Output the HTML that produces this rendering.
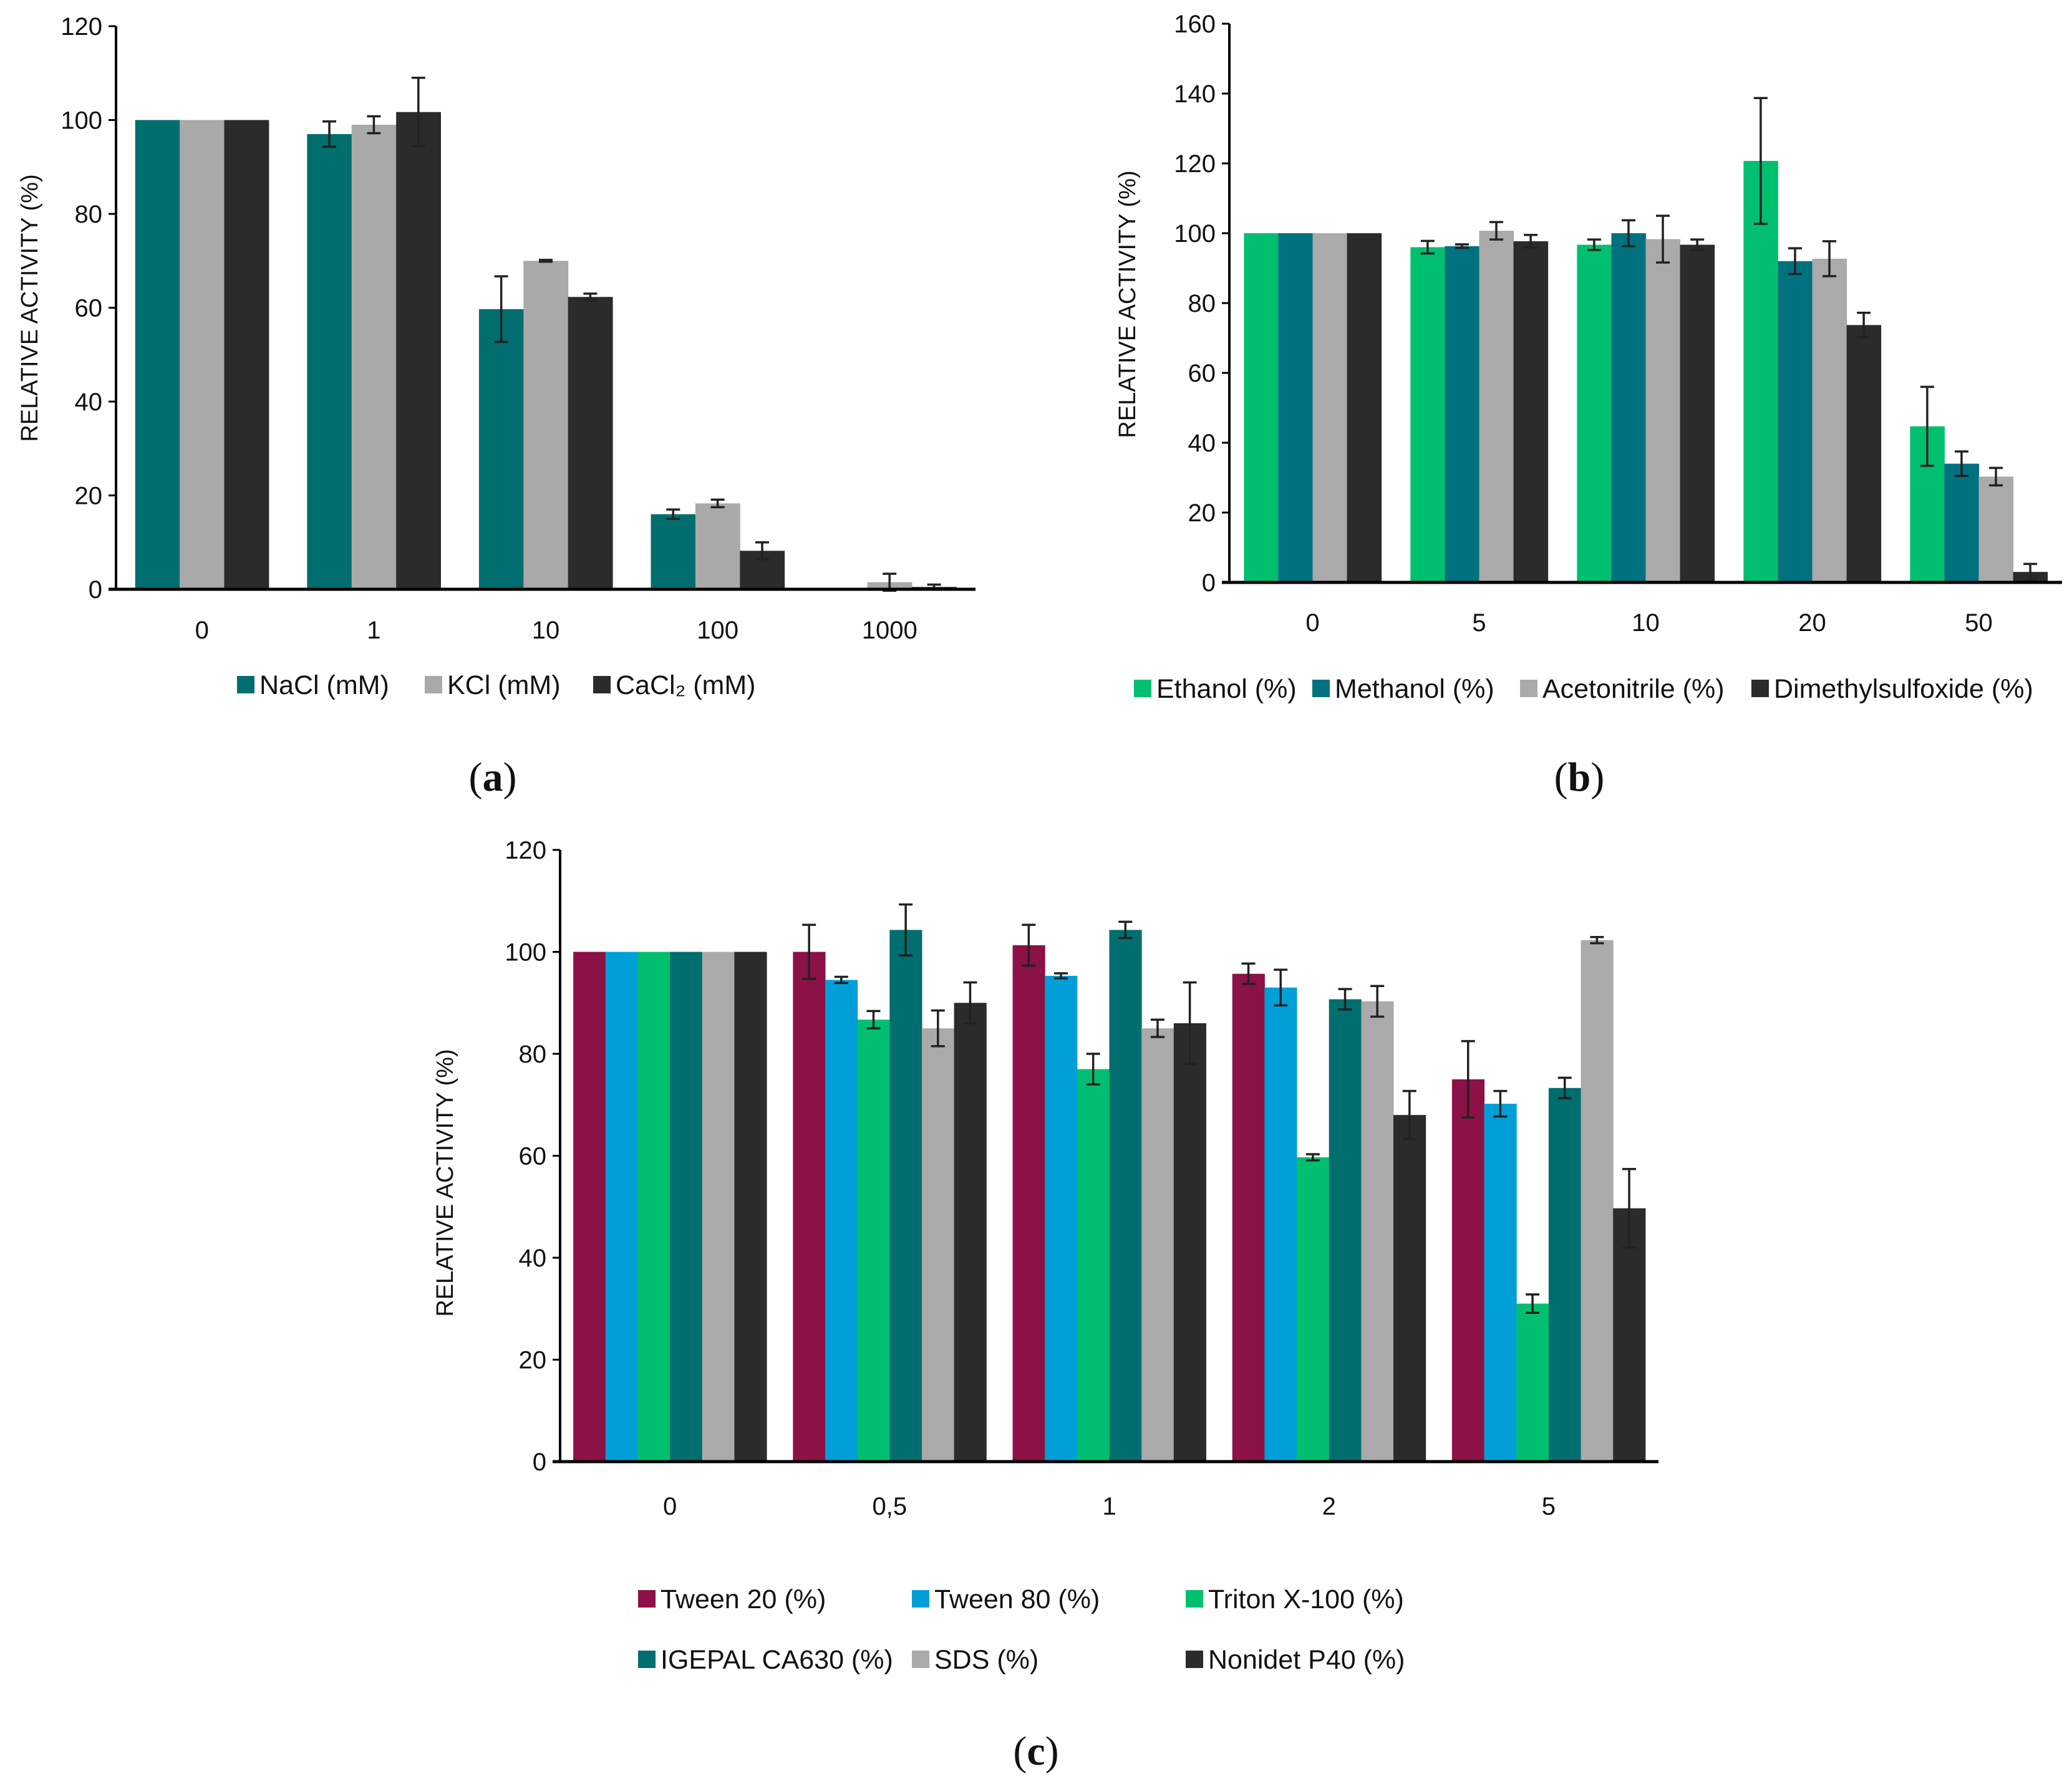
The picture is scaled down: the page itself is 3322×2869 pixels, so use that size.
<!DOCTYPE html>
<html><head><meta charset="utf-8">
<style>
html,body{margin:0;padding:0;background:#fff;}
svg{display:block;}
text{font-family:"Liberation Sans Narrow","Liberation Sans",sans-serif;fill:#111;}
.lbl{font-family:"Liberation Serif",serif;}
</style></head>
<body>
<svg id="fig" width="3322" height="2869" viewBox="0 0 3322 2869" xmlns="http://www.w3.org/2000/svg"></svg>
<script>
// ---- Panel (a) data ----
const aCategories = ["0","1","10","100","1000"];
const aSeriesNames = ["NaCl (mM)","KCl (mM)","CaCl\u2082 (mM)"];
const aNaCl = [100,97,59.7,16,0];
const aNaClErr = [0,2.7,7,1,0];
const aKCl = [100,99,70,18.3,1.5];
const aKClErr = [0,1.8,0.2,0.8,1.8];
const aCaCl2 = [100,101.7,62.3,8.2,0.5];
const aCaCl2Err = [0,7.3,0.7,1.8,0.5];
const aTicks = [0,20,40,60,80,100,120];

// ---- Panel (b) data ----
const bCategories = ["0","5","10","20","50"];
const bSeriesNames = ["Ethanol (%)","Methanol (%)","Acetonitrile (%)","Dimethylsulfoxide (%)"];
const bEthanol = [100,96,96.7,120.7,44.7];
const bEthanolErr = [0,1.8,1.5,18,11.3];
const bMethanol = [100,96.3,100,92,34];
const bMethanolErr = [0,0.5,3.7,3.7,3.5];
const bAcetonitrile = [100,100.7,98.3,92.7,30.3];
const bAcetonitrileErr = [0,2.5,6.7,5,2.5];
const bDMSO = [100,97.7,96.7,73.7,3];
const bDMSOErr = [0,1.8,1.5,3.5,2.3];
const bTicks = [0,20,40,60,80,100,120,140,160];

// ---- Panel (c) data ----
const cCategories = ["0","0,5","1","2","5"];
const cSeriesNames = ["Tween 20 (%)","Tween 80 (%)","Triton X-100 (%)","IGEPAL CA630 (%)","SDS (%)","Nonidet P40 (%)"];
const cTween20 = [100,100,101.3,95.7,75];
const cTween20Err = [0,5.3,4,2,7.5];
const cTween80 = [100,94.5,95.3,93,70.2];
const cTween80Err = [0,0.6,0.5,3.5,2.5];
const cTriton = [100,86.7,77,59.7,31];
const cTritonErr = [0,1.7,3,0.6,1.8];
const cIgepal = [100,104.3,104.3,90.7,73.3];
const cIgepalErr = [0,5,1.6,2,2];
const cSDS = [100,85,85,90.3,102.3];
const cSDSErr = [0,3.5,1.7,3,0.6];
const cNonidet = [100,90,86,68,49.7];
const cNonidetErr = [0,4,8,4.7,7.7];
const cTicks = [0,20,40,60,80,100,120];

const NS = "http://www.w3.org/2000/svg";
const svg = document.getElementById("fig");
function mk(tag, attrs, parent, txt){
  const e = document.createElementNS(NS, tag);
  for (const k in attrs) e.setAttribute(k, attrs[k]);
  if (txt !== undefined) e.textContent = txt;
  (parent||svg).appendChild(e);
  return e;
}

function panel(cfg){
  const g = mk("g", {});
  
  
  const x0 = cfg.x0, x1 = cfg.x1, y0 = cfg.y0, yTop = cfg.yTop, ymax = cfg.ymax;
  const yS = v => y0 - (v / ymax) * (y0 - yTop);
  const n = cfg.cats.length;
  const step = (x1 - x0) / n;
  const xC = i => x0 + step * (i + 0.5);
  const ns = cfg.series.length;
  const bw = step * cfg.frac / ns;
  cfg.series.forEach((s, si) => {
    s.vals.forEach((v, i) => {
      const bx = xC(i) - (ns * bw) / 2 + si * bw;
      const r = mk("rect", {x: bx, y: yS(v), width: bw + 0.5, height: y0 - yS(v), fill: s.color}, g);
      
      
      const e = s.err[i];
      if (e > 0) {
        const cx = bx + bw / 2, cap = 11;
        const eb = mk("path", {d: `M${cx},${yS(v+e)}V${yS(v-e)}M${cx-cap},${yS(v+e)}H${cx+cap}M${cx-cap},${yS(v-e)}H${cx+cap}`, stroke: "#222", "stroke-width": 3.5, fill: "none"}, g);
        
        
      }
    });
  });
  const ya = mk("line", {x1: x0, y1: yTop, x2: x0, y2: y0, stroke: "#000", "stroke-width": 4}, g);
  
  
  cfg.ticks.forEach(t => {
    mk("line", {x1: x0 - 12, y1: yS(t), x2: x0, y2: yS(t), stroke: "#000", "stroke-width": 3}, g);
    const tl = mk("text", {x: x0 - 22, y: yS(t) + 14, "text-anchor": "end", "font-size": 40}, g, String(t));
    
    
  });
  const xa = mk("line", {x1: x0 - 12, y1: y0, x2: x1, y2: y0, stroke: "#000", "stroke-width": 5}, g);
  
  
  cfg.cats.forEach((c, i) => {
    const xl = mk("text", {x: xC(i), y: cfg.xLabelY + 2, "text-anchor": "middle", "font-size": 40}, g, c);
    
    
  });
  const yt = mk("text", {x: 0, y: 0, "text-anchor": "middle", "font-size": 38, "font-family": "Liberation Sans, sans-serif", transform: `translate(${cfg.titleX},${cfg.titleY}) rotate(-90)`}, g, "RELATIVE ACTIVITY (%)");
  
  
  cfg.legend.forEach((L, k) => {
    const s = cfg.series[k];
    const lg = mk("g", {}, g);
    
    
    mk("rect", {x: L[0], y: L[1] - 14, width: 28, height: 28, fill: s.color}, lg);
    mk("text", {x: L[0] + 36, y: L[1] + 15, "font-size": 43}, lg, s.label);
  });
  const pl = mk("text", {x: cfg.lab[0], y: cfg.lab[1], "text-anchor": "middle", "font-size": 66, class: "lbl"}, g);
  
  
  mk("tspan", {}, pl, "(");
  mk("tspan", {"font-weight": "bold"}, pl, cfg.letter);
  mk("tspan", {}, pl, ")");
}

panel({name: "panel-a-salts", letter: "a", x0: 186, x1: 1564, y0: 945, yTop: 42, ymax: 120, frac: 0.777,
  cats: aCategories, ticks: aTicks, xLabelY: 1022, titleX: 60, titleY: 494,
  series: [
    {key: "nacl", label: aSeriesNames[0], vals: aNaCl, err: aNaClErr, color: "#006e6e"},
    {key: "kcl", label: aSeriesNames[1], vals: aKCl, err: aKClErr, color: "#a9a9a9"},
    {key: "cacl2", label: aSeriesNames[2], vals: aCaCl2, err: aCaCl2Err, color: "#2b2b2b"}],
  legend: [[380, 1098], [681, 1098], [951, 1098]], lab: [790, 1268]});

panel({name: "panel-b-solvents", letter: "b", x0: 1971, x1: 3306, y0: 934, yTop: 38, ymax: 160, frac: 0.825,
  cats: bCategories, ticks: bTicks, xLabelY: 1010, titleX: 1820, titleY: 488,
  series: [
    {key: "ethanol", label: bSeriesNames[0], vals: bEthanol, err: bEthanolErr, color: "#00c070"},
    {key: "methanol", label: bSeriesNames[1], vals: bMethanol, err: bMethanolErr, color: "#00717f"},
    {key: "acetonitrile", label: bSeriesNames[2], vals: bAcetonitrile, err: bAcetonitrileErr, color: "#aaaaaa"},
    {key: "dmso", label: bSeriesNames[3], vals: bDMSO, err: bDMSOErr, color: "#2b2b2b"}],
  legend: [[1818, 1104], [2104, 1104], [2437, 1104], [2808, 1104]], lab: [2532, 1268]});

panel({name: "panel-c-detergents", letter: "c", x0: 898, x1: 2659, y0: 2344, yTop: 1363, ymax: 120, frac: 0.88,
  cats: cCategories, ticks: cTicks, xLabelY: 2427, titleX: 726, titleY: 1897,
  series: [
    {key: "tween20", label: cSeriesNames[0], vals: cTween20, err: cTween20Err, color: "#8b1146"},
    {key: "tween80", label: cSeriesNames[1], vals: cTween80, err: cTween80Err, color: "#009fd8"},
    {key: "triton", label: cSeriesNames[2], vals: cTriton, err: cTritonErr, color: "#00c070"},
    {key: "igepal", label: cSeriesNames[3], vals: cIgepal, err: cIgepalErr, color: "#006e6e"},
    {key: "sds", label: cSeriesNames[4], vals: cSDS, err: cSDSErr, color: "#aaaaaa"},
    {key: "nonidet", label: cSeriesNames[5], vals: cNonidet, err: cNonidetErr, color: "#2b2b2b"}],
  legend: [[1023, 2564], [1462, 2564], [1901, 2564], [1023, 2661], [1462, 2661], [1901, 2661]], lab: [1661, 2830]});
</script>
</body></html>
